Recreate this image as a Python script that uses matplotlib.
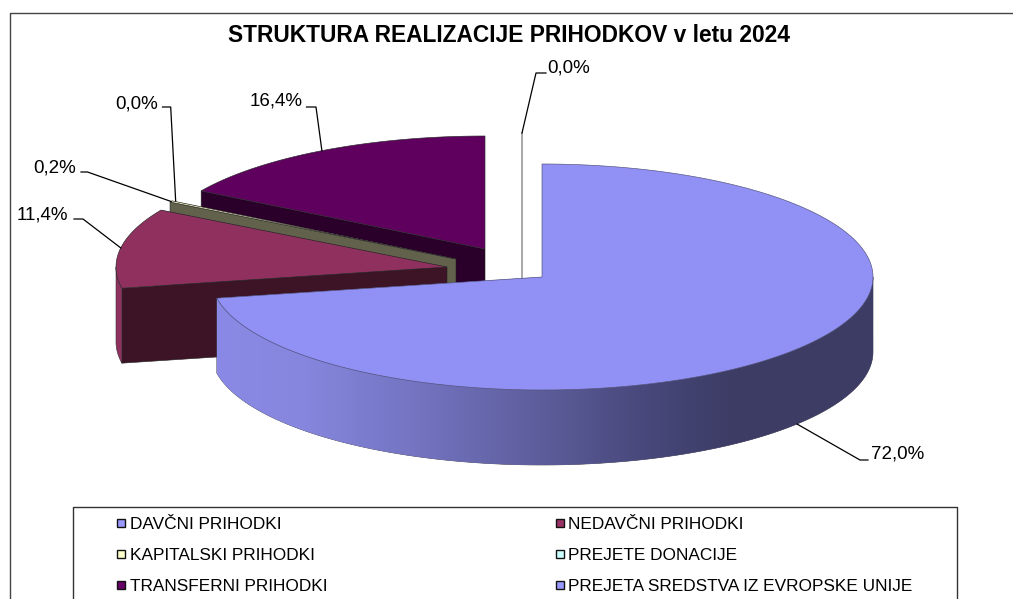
import numpy as np
import matplotlib
matplotlib.use("Agg")
import matplotlib.pyplot as plt
from matplotlib.patches import Polygon, Rectangle
from matplotlib.colors import LinearSegmentedColormap

# ---- data ----
categories = ["DAVČNI PRIHODKI", "NEDAVČNI PRIHODKI", "KAPITALSKI PRIHODKI",
              "PREJETE DONACIJE", "TRANSFERNI PRIHODKI",
              "PREJETA SREDSTVA IZ EVROPSKE UNIJE"]
values = [72.0, 11.4, 0.2, 0.0, 16.4, 0.0]
value_labels = ["72,0%", "11,4%", "0,2%", "0,0%", "16,4%", "0,0%"]
legend_colors = ["#9999ff", "#993366", "#ffffcc", "#ccffff", "#660066", "#9999ff"]
title = "STRUKTURA REALIZACIJE PRIHODKOV v letu 2024"

# ---- styling / layout ----
plt.rcParams["font.family"] = ["Liberation Sans", "DejaVu Sans"]
top_colors = ["#9090f5", "#8f305f", "#f0f0c0", "#ccffff", "#5f005f", "#ffffff"]
face_colors = ["#8a8ae6", "#3d1426", "#62624c", "#62624c", "#2a002a", "#a8a8a8"]
wall_colors = ["#8a8ae6", "#8f305f", "#62624c", "#62624c", "#5f005f", "#a8a8a8"]
apexes = [(542, 277), (447, 267), (456, 259), (456, 259), (485, 249), (522, 246)]
RX, RY, DEPTH = 331, 113, 75
elbows = [[(860, 460), (868, 460)], [(83, 219), (74, 219)], [(87.5, 172), (81, 172)],
          [(170.7, 107), (162.5, 107)], [(316, 107), (306.5, 107)], [(536, 73), (546, 73)]]
label_pos = [(871, 454, "left"), (68, 215, "right"), (76, 168, "right"),
             (158, 104, "right"), (303, 101, "right"), (547, 68, "left")]

fig = plt.figure(figsize=(10.13, 5.99), dpi=100)
ax = fig.add_axes([0, 0, 1, 1])
ax.set_xlim(0, 1013)
ax.set_ylim(599, 0)
ax.axis("off")

# slice angles (clockwise from top), derived from the values
total = sum(values)
ends = np.cumsum(values) / total * 360
starts = np.concatenate([[0], ends[:-1]])


def rim(apex, a0, a1, dy=0, n=200):
    t = np.radians(np.linspace(a0, a1, n))
    return np.column_stack([apex[0] + RX * np.sin(t), apex[1] - RY * np.cos(t) + dy])


def cut_face(apex, a):
    p = rim(apex, a, a, n=1)[0]
    return [p, apex, (apex[0], apex[1] + DEPTH), (p[0], p[1] + DEPTH)]


def wall_poly(apex, a0, a1):
    upper = rim(apex, a0, a1)
    lower = rim(apex, a0, a1, DEPTH)[::-1]
    return np.vstack([upper, lower])


def draw_slice(i, zbase):
    apex, a0, a1 = apexes[i], starts[i], ends[i]
    # back-facing cut first, then front-facing cut
    ax.add_patch(Polygon(cut_face(apex, a1), fc=face_colors[i], ec="none", zorder=zbase))
    ax.add_patch(Polygon(cut_face(apex, a0), fc=face_colors[i], ec="#222222", lw=0.4, zorder=zbase + 0.1))
    lo, hi = max(a0, 90), min(a1, 270)
    if hi > lo:
        poly = wall_poly(apex, lo, hi)
        patch = Polygon(poly, fc=wall_colors[i], ec="#333333", lw=0.4, zorder=zbase + 0.2)
        ax.add_patch(patch)
        if i == 0:
            stops = [(0.0, "#8a8ae6"), (0.13, "#8686de"), (0.30, "#7474c2"),
                     (0.50, "#5c5c9a"), (0.66, "#47477a"), (0.78, "#3d3d66"), (1.0, "#3c3c64")]
            cmap = LinearSegmentedColormap.from_list("wall", stops)
            x0, x1 = poly[:, 0].min(), apex[0] + RX
            im = ax.imshow(np.linspace(0, 1, 512).reshape(1, -1), cmap=cmap, aspect="auto",
                           extent=(x0, x1, poly[:, 1].max(), poly[:, 1].min()),
                           zorder=zbase + 0.3)
            im.set_clip_path(patch)
            ax.set_xlim(0, 1013)
            ax.set_ylim(599, 0)
    if a1 > a0:
        top = np.vstack([[apex], rim(apex, a0, a1)])
        edge = "#50507a" if i == 0 else "#2a2a2a"
        ax.add_patch(Polygon(top, fc=top_colors[i], ec=edge, lw=0.45, zorder=zbase + 0.4))


# zero-value EU slice is a thin line
eu = 5
ax.plot([apexes[eu][0], rim(apexes[eu], starts[eu], starts[eu], n=1)[0, 0]],
        [apexes[eu][1] + DEPTH, rim(apexes[eu], starts[eu], starts[eu], n=1)[0, 1]],
        color="#a8a8a8", lw=1.4, zorder=1)

draw_slice(4, 2)
draw_slice(2, 3)
draw_slice(1, 4)
draw_slice(0, 5)

# data labels and leader lines
for i, lab in enumerate(value_labels):
    mid = (starts[i] + ends[i]) / 2
    p = rim(apexes[i], mid, mid, n=1)[0]
    if i == 3:
        p = p + np.array([3.5, 0])
    if 90 < mid < 270 and i == 0:
        p = p + np.array([0, DEPTH])
    xs = [p[0]] + [e[0] for e in elbows[i]]
    ys = [p[1]] + [e[1] for e in elbows[i]]
    ax.plot(xs, ys, color="black", lw=0.9, zorder=8)
    x, y, ha = label_pos[i]
    ax.text(x, y, lab, ha=ha, va="center", fontsize=13.5, color="black", zorder=9)

ax.text(509.5, 36, title, ha="center", va="center", fontsize=16.35, fontweight="bold", zorder=9)

# chart frame
ax.plot([1013, 10, 10], [13, 13, 599], color="#444444", lw=1.0, zorder=10)

# legend box
ax.plot([73, 73, 957, 957], [599, 507, 507, 599], color="#333333", lw=1.0, zorder=10)
rows = [523, 523, 554, 554, 585, 585]
cols = [120.5, 559.5]
for i, name in enumerate(categories):
    cx, cy = cols[i % 2], rows[i]
    ax.add_patch(Rectangle((cx - 4, cy - 4), 8, 8, fc=legend_colors[i], ec="#111111", lw=1.0, zorder=10))
    ax.text(cx + 9, cy + 1.5, name, ha="left", va="center", fontsize=12.43, color="black", zorder=10)

fig.savefig("out.png", dpi=100)
